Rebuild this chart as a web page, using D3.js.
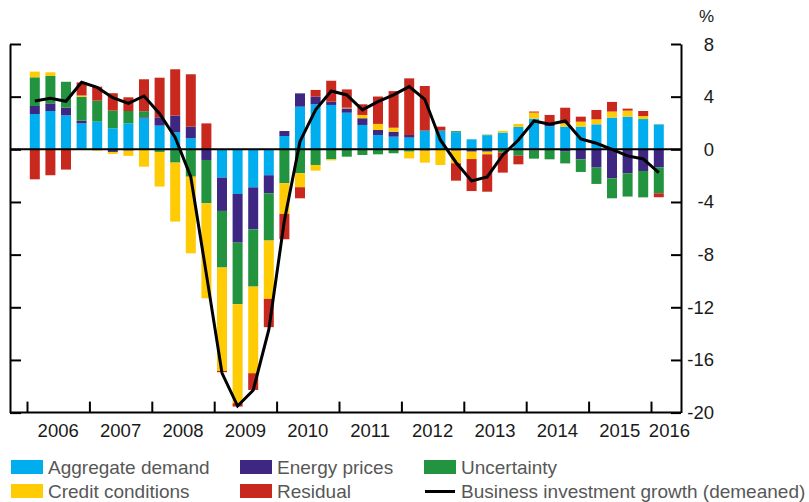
<!DOCTYPE html>
<html>
<head>
<meta charset="utf-8">
<script src="https://cdn.jsdelivr.net/npm/d3@7"></script>
<style>
	body { margin: 0; background: #fff; }
	text { font-family: "Liberation Sans", Arial, sans-serif; }
</style>
</head>
<body>
<div id="chart"></div>
<script>
const svg_width = 809,
	svg_height = 502;

const plot = { left: 10, right: 681, top: 44, bottom: 412.6 };

// quarters 2006Q1 .. 2016Q1
const quarters = d3.range(41).map((i) => 2006 + Math.floor(i / 4) + ((i % 4) + 0.5) / 4);

const aggregate_demand = [
	2.68, 2.91, 2.58, 1.97, 2.1, 1.6, 1.97, 2.35, 1.8, 1.29,
	0.84, 0, -2.15, -3.39, -2.89, -1.97, 1.01, 3.24, 3.42, 3.37,
	2.78, 1.85, 1.09, 0.96, 0.89, 1.42, 1.42, 1.3, 0.76, 1.06,
	1.27, 1.7, 2.33, 1.75, 1.72, 1.72, 1.9, 2.41, 2.48, 2.3,
	1.9
];
const energy_prices = [
	0.61, 0.58, 0.58, 0.2, 0, -0.2, -0.1, 0.08, 0.63, 1.27,
	0.89, -0.81, -2.53, -3.7, -3.19, -1.37, 0.38, 1.01, 0.58, 0.25,
	0.33, 0.51, 0.38, 0.38, 0.2, -0.1, 0, -0.1, -0.18, -0.18,
	0, 0, -0.1, 0.2, -0.18, -0.76, -1.39, -2.2, -1.82, -1.65,
	-1.37
];
const uncertainty = [
	2.18, 2.08, 1.97, 1.82, 1.6, 1.34, 0.94, 0.46, -0.2, -1.01,
	-2.08, -3.29, -4.3, -4.68, -4.35, -3.59, -2.58, -1.82, -1.19, -0.76,
	-0.56, -0.43, -0.38, -0.3, -0.18, 0, 0, 0.08, 0, 0.05,
	-0.25, -0.48, -0.61, -0.76, -0.89, -0.96, -1.24, -1.52, -1.77, -2.0,
	-1.97
];
const credit_conditions = [
	0.43, 0.28, 0, 0.1, -0.1, -0.15, -0.4, -1.32, -2.63, -4.48,
	-5.82, -7.22, -7.85, -7.52, -6.58, -4.43, -2.33, -1.06, -0.43, -0.08,
	0.05, 0.25, 0.46, 0.3, -0.51, -0.91, -1.19, -0.96, -0.56, -0.2,
	0.13, 0.23, 0.46, 0, 0.25, 0.38, 0.38, 0.46, 0.46, 0.23,
	0.02
];
const residual = [
	-2.28, -1.97, -1.54, 0.99, 1.06, 1.32, 1.04, 2.43, 3.01, 3.52,
	3.97, 1.97, -0.1, -0.25, -1.27, -2.15, -1.92, -0.84, 0.51, 1.59,
	1.39, 0.81, 2.08, 2.78, 4.3, 3.39, 0.3, -1.32, -2.43, -2.84,
	-1.52, -0.66, 0.08, 0.66, 1.19, 0.38, 0.71, 0.73, 0.15, 0.38,
	-0.3
];
const investment_growth = [
	3.67, 3.87, 3.65, 5.09, 4.7, 3.92, 3.49, 4.05, 2.7, 0.9,
	-2.1, -9.5, -17.0, -19.5, -18.3, -13.7, -5.4, 0.6, 3.0, 4.43,
	4.13, 3.0, 3.62, 4.13, 4.76, 3.8, 0.71, -1.0, -2.4, -2.1,
	-0.43, 0.71, 2.15, 1.9, 2.15, 0.78, 0.46, 0.0, -0.5, -0.73,
	-1.77
];

const years = d3.range(2006, 2017);
const y_ticks = [8, 4, 0, -4, -8, -12, -16, -20];

const series_keys = ["aggregate", "energy", "uncertainty", "credit", "residual"];
const series_names = {
	aggregate: "Aggregate demand",
	energy: "Energy prices",
	uncertainty: "Uncertainty",
	credit: "Credit conditions",
	residual: "Residual",
};
const colours = {
	aggregate: "#00AEEF",
	energy: "#3E2782",
	uncertainty: "#22943F",
	credit: "#FFCB05",
	residual: "#C9281E",
};

const table = quarters.map((q, i) => ({
	quarter: q,
	aggregate: aggregate_demand[i],
	energy: energy_prices[i],
	uncertainty: uncertainty[i],
	credit: credit_conditions[i],
	residual: residual[i],
	growth: investment_growth[i],
}));

const svg = d3
	.select("#chart")
	.append("svg")
	.attr("width", svg_width)
	.attr("height", svg_height);

const x = d3.scaleLinear().domain([2006, 2016]).range([27, 651]);
const y = d3.scaleLinear().domain([-20, 8]).range([plot.bottom, plot.top]);
const bar_width = 10;

// bars
const stacked = d3
	.stack()
	.keys(series_keys)
	.offset(d3.stackOffsetDiverging)(table);

svg
	.append("g")
	.selectAll("g")
	.data(stacked)
	.join("g")
	.attr("fill", (d) => colours[d.key])
	.selectAll("rect")
	.data((d) => d)
	.join("rect")
	.attr("x", (d) => x(d.data.quarter) - bar_width / 2)
	.attr("y", (d) => y(Math.max(d[0], d[1])))
	.attr("width", bar_width)
	.attr("height", (d) => Math.abs(y(d[0]) - y(d[1])));

// zero line
svg
	.append("line")
	.attr("x1", plot.left)
	.attr("x2", plot.right)
	.attr("y1", y(0))
	.attr("y2", y(0))
	.attr("stroke", "#000")
	.attr("stroke-width", 2);

// investment growth line
svg
	.append("path")
	.datum(table)
	.attr("fill", "none")
	.attr("stroke", "#000")
	.attr("stroke-width", 3)
	.attr("d", d3.line().x((d) => x(d.quarter)).y((d) => y(d.growth)));

// left axis: ticks pointing in, no labels
const left_axis = svg
	.append("g")
	.attr("transform", `translate(${plot.left},0)`)
	.call(d3.axisRight(y).tickValues(y_ticks).tickSize(11).tickSizeOuter(0).tickFormat(""));
left_axis.select(".domain").attr("stroke-width", 2);
left_axis.selectAll(".tick line").attr("stroke-width", 2);

// right axis with labels
const right_axis = svg
	.append("g")
	.attr("transform", `translate(${plot.right},0)`)
	.call(d3.axisLeft(y).tickValues(y_ticks).tickSize(10).tickSizeOuter(0).tickFormat(""));
right_axis.select(".domain").attr("stroke-width", 2);
right_axis.selectAll(".tick line").attr("stroke-width", 2);

svg
	.append("g")
	.selectAll("text")
	.data(y_ticks)
	.join("text")
	.attr("x", 714)
	.attr("y", (d) => y(d) + 6.5)
	.attr("text-anchor", "end")
	.attr("font-size", 18.5)
	.attr("fill", "#1a1a1a")
	.text((d) => d);

svg
	.append("text")
	.attr("x", 714)
	.attr("y", 22)
	.attr("text-anchor", "end")
	.attr("font-size", 17)
	.attr("fill", "#1a1a1a")
	.text("%");

// bottom axis
const bottom_axis = svg
	.append("g")
	.attr("transform", `translate(0,${plot.bottom})`)
	.call(d3.axisTop(x).tickValues(years).tickSize(11).tickSizeOuter(0).tickFormat(""));
bottom_axis.select(".domain").attr("d", `M${plot.left},0H${plot.right}`).attr("stroke-width", 2);
bottom_axis.selectAll(".tick line").attr("stroke-width", 2);

svg
	.append("g")
	.selectAll("text")
	.data(years)
	.join("text")
	.attr("x", (d) => (d === 2016 ? 690 : x(d + 0.5)))
	.attr("y", 437)
	.attr("text-anchor", (d) => (d === 2016 ? "end" : "middle"))
	.attr("font-size", 18.5)
	.attr("fill", "#1a1a1a")
	.text((d) => d);

// legend
const legend_items = [
	{ key: "aggregate", col: 0, row: 0 },
	{ key: "energy", col: 1, row: 0 },
	{ key: "uncertainty", col: 2, row: 0 },
	{ key: "credit", col: 0, row: 1 },
	{ key: "residual", col: 1, row: 1 },
	{ key: "line", col: 2, row: 1 },
];
const legend_cols = [11, 240, 424];
const legend_rows = [460, 484];

const legend = svg
	.append("g")
	.selectAll("g")
	.data(legend_items)
	.join("g")
	.attr("transform", (d) => `translate(${legend_cols[d.col]},${legend_rows[d.row]})`);

legend
	.filter((d) => d.key !== "line")
	.append("rect")
	.attr("width", 32)
	.attr("height", 14)
	.attr("fill", (d) => colours[d.key]);

legend
	.filter((d) => d.key === "line")
	.append("line")
	.attr("x1", 1)
	.attr("x2", 31)
	.attr("y1", 7.5)
	.attr("y2", 7.5)
	.attr("stroke", "#000")
	.attr("stroke-width", 3);

legend
	.append("text")
	.attr("x", 37)
	.attr("y", 14)
	.attr("font-size", 19)
	.attr("fill", "#575757")
	.text((d) => (d.key === "line" ? "Business investment growth (demeaned)" : series_names[d.key]));
</script>
</body>
</html>
